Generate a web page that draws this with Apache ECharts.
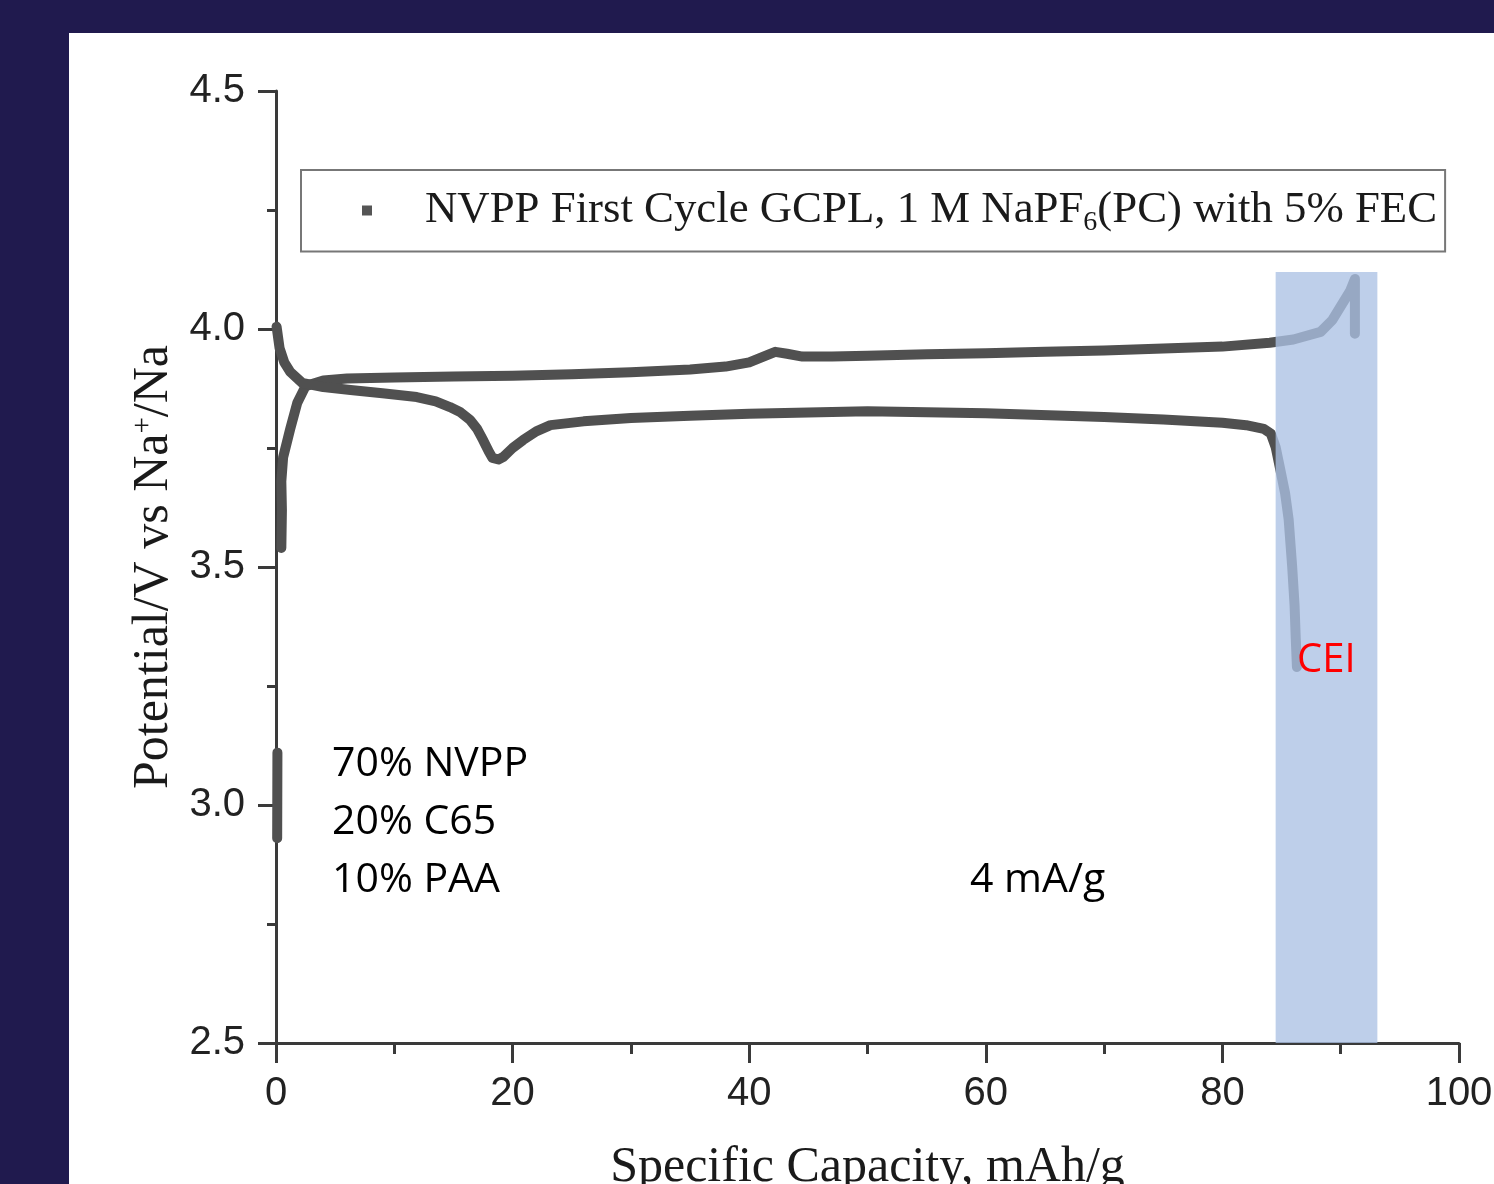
<!DOCTYPE html>
<html>
<head>
<meta charset="utf-8">
<script src="https://cdn.jsdelivr.net/npm/echarts@6/dist/echarts.min.js"></script>
<style>
  html, body { margin: 0; padding: 0; width: 1494px; height: 1184px; background: #201a4e; overflow: hidden; }
  #chart { position: absolute; left: 69px; top: 33px; width: 1425px; height: 1151px; background: #ffffff; }
</style>
</head>
<body>
<div id="chart"></div>
<script>
// ---- data ----
const xTicks = [0, 20, 40, 60, 80, 100];
const yTicks = [2.5, 3.0, 3.5, 4.0, 4.5];

// first charge (capacity mAh/g, potential V); null marks a gap in the recorded trace
const chargeCap = [0.1, 0.12, 0.3, 0.45, 0.5, 0.45, 0.6, 1.2, 1.8, 2.5, 4, 6, 10, 15, 20, 25, 30, 35, 38, 40, 41.2, 42.2, 43.2, 44.5, 47, 50, 55, 60, 65, 70, 75, 80, 84, 86, 88.3, 89.3, 90.8, 91.2, 91.2];
const chargeV   = [2.93, 3.11, null, 3.54, 3.62, 3.68, 3.73, 3.79, 3.845, 3.88, 3.892, 3.896, 3.898, 3.9, 3.902, 3.905, 3.909, 3.915, 3.921, 3.93, 3.942, 3.952, 3.948, 3.942, 3.942, 3.944, 3.947, 3.949, 3.952, 3.955, 3.959, 3.963, 3.971, 3.978, 3.994, 4.019, 4.08, 4.105, 3.99];

// first discharge
const dischargeCap = [0.05, 0.3, 0.7, 1.2, 2.2, 4, 6.3, 9, 11.9, 13.5, 14.7, 15.6, 16.4, 17.0, 17.5, 18.0, 18.3, 18.8, 19.2, 20.0, 20.9, 22, 23.2, 26, 30, 35, 40, 50, 60, 70, 75, 80, 82, 83.5, 84.1, 84.5, 84.9, 85.3, 85.6, 85.9, 86.1, 86.2, 86.3];
const dischargeV   = [4.005, 3.96, 3.93, 3.91, 3.887, 3.878, 3.872, 3.865, 3.857, 3.848, 3.836, 3.825, 3.809, 3.79, 3.767, 3.742, 3.729, 3.726, 3.731, 3.75, 3.767, 3.785, 3.798, 3.806, 3.813, 3.818, 3.822, 3.827, 3.823, 3.815, 3.81, 3.803, 3.798, 3.79, 3.78, 3.752, 3.704, 3.655, 3.6, 3.5, 3.42, 3.35, 3.29];

// CEI highlighted region (capacity range, potential range)
const ceiCap = [84.5, 93.1];
const ceiV = [2.5, 4.12];

const legendName = 'NVPP First Cycle GCPL, 1 M NaPF6(PC) with 5% FEC';
const notes = ['70% NVPP', '20% C65', '10% PAA'];
const rateNote = '4 mA/g';
const ceiNote = 'CEI';

// ---- build ----
const zip = (a, b) => a.map((v, i) => (b[i] === null ? null : [v, b[i]]));
const curveColor = '#505050';
const axisColor = '#3a3a3a';

const chart = echarts.init(document.getElementById('chart'), null, { renderer: 'canvas', width: 1425, height: 1151 });

chart.setOption({
  backgroundColor: '#ffffff',
  animation: false,
  grid: { left: 207, right: 35, top: 58, bottom: 141, containLabel: false, outerBoundsMode: 'none' },
  legend: {
    data: [legendName],
    left: 232,
    top: 137,
    orient: 'horizontal',
    padding: [18, 8, 15, 61],
    borderColor: '#777777',
    borderWidth: 2,
    icon: 'rect',
    itemWidth: 10,
    itemHeight: 10,
    itemStyle: { color: '#555555' },
    selectedMode: false,
    formatter: function () {
      return '{a|NVPP First Cycle GCPL, 1 M NaPF}{s|6}{t|(PC) with 5% FEC}';
    },
    textStyle: {
      rich: {
        a: { fontFamily: 'Liberation Serif', fontSize: 44.8, color: '#1a1a1a', lineHeight: 52, padding: [0, 0, 0, 48] },
        t: { fontFamily: 'Liberation Serif', fontSize: 44.8, color: '#1a1a1a', lineHeight: 52 },
        s: { fontFamily: 'Liberation Serif', fontSize: 28, color: '#1a1a1a', lineHeight: 22, verticalAlign: 'bottom' }
      }
    }
  },
  xAxis: {
    type: 'value',
    min: xTicks[0],
    max: xTicks[xTicks.length - 1],
    interval: xTicks[1] - xTicks[0],
    name: 'Specific Capacity, mAh/g',
    nameLocation: 'middle',
    nameGap: 100,
    nameTextStyle: { fontFamily: 'Liberation Serif', fontSize: 50, color: '#1a1a1a' },
    axisLine: { onZero: false, lineStyle: { color: axisColor, width: 3 } },
    axisTick: { show: true, inside: false, length: 20, lineStyle: { color: axisColor, width: 3 } },
    minorTick: { show: true, splitNumber: 2, length: 11, lineStyle: { color: axisColor, width: 3 } },
    axisLabel: { margin: 31, fontFamily: 'Liberation Sans', fontSize: 40, color: '#222222' },
    splitLine: { show: false },
    minorSplitLine: { show: false }
  },
  yAxis: {
    type: 'value',
    min: yTicks[0],
    max: yTicks[yTicks.length - 1],
    interval: yTicks[1] - yTicks[0],
    name: 'Potential/V vs Na{p|+}/Na',
    nameLocation: 'middle',
    nameGap: 95,
    nameRotate: 90,
    nameTextStyle: {
      fontFamily: 'Liberation Serif', fontSize: 50, color: '#1a1a1a',
      rich: {
        p: { fontFamily: 'Liberation Serif', fontSize: 29, color: '#1a1a1a', verticalAlign: 'top', lineHeight: 20 }
      }
    },
    axisLine: { onZero: false, lineStyle: { color: axisColor, width: 3 } },
    axisTick: { show: true, inside: false, length: 18, lineStyle: { color: axisColor, width: 3 } },
    minorTick: { show: true, splitNumber: 2, length: 9, lineStyle: { color: axisColor, width: 3 } },
    axisLabel: {
      margin: 31, fontFamily: 'Liberation Sans', fontSize: 40, color: '#222222',
      formatter: v => v.toFixed(1)
    },
    splitLine: { show: false },
    minorSplitLine: { show: false }
  },
  series: [
    {
      name: legendName,
      type: 'line',
      data: zip(chargeCap, chargeV),
      showSymbol: false,
      connectNulls: false,
      symbol: 'rect',
      itemStyle: { color: '#555555' },
      lineStyle: { color: curveColor, width: 10, join: 'round', cap: 'round' },
      z: 2
    },
    {
      name: legendName,
      type: 'line',
      data: zip(dischargeCap, dischargeV),
      showSymbol: false,
      symbol: 'rect',
      itemStyle: { color: '#555555' },
      lineStyle: { color: curveColor, width: 10, join: 'round', cap: 'round' },
      z: 2
    },
    {
      name: 'CEI region',
      type: 'line',
      data: [],
      z: 10,
      markArea: {
        silent: true,
        z: 10,
        itemStyle: { color: 'rgba(172,193,228,0.78)' },
        data: [[{ coord: [ceiCap[0], ceiV[0]] }, { coord: [ceiCap[1], ceiV[1]] }]]
      }
    }
  ],
  graphic: [
    { type: 'text', left: 263, top: 711, z: 20, style: { text: notes[0], fontFamily: 'Open Sans', fontSize: 41, fill: '#000000' } },
    { type: 'text', left: 263, top: 769, z: 20, style: { text: notes[1], fontFamily: 'Open Sans', fontSize: 41, fill: '#000000' } },
    { type: 'text', left: 263, top: 827, z: 20, style: { text: notes[2], fontFamily: 'Open Sans', fontSize: 41, fill: '#000000' } },
    { type: 'text', left: 901, top: 827, z: 20, style: { text: rateNote, fontFamily: 'Open Sans', fontSize: 41, fill: '#000000' } },
    { type: 'text', left: 1228, top: 608, z: 20, style: { text: ceiNote, fontFamily: 'Open Sans', fontSize: 40, fill: '#ff0000' } }
  ]
});
</script>
</body>
</html>
